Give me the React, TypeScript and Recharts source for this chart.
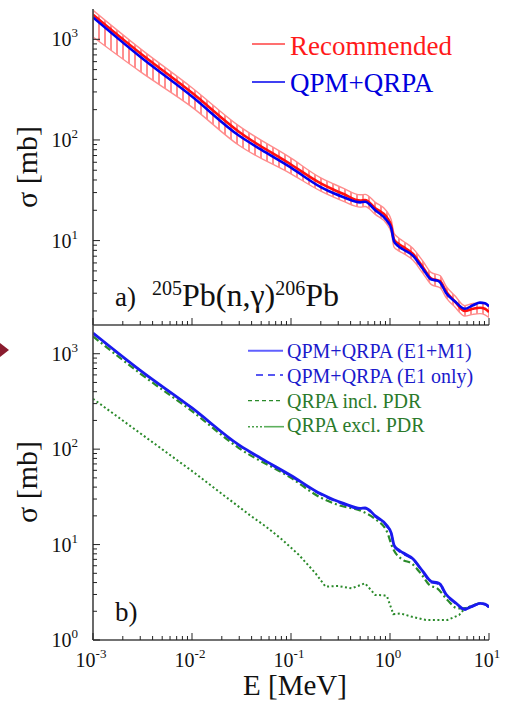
import React from 'react';
import { ComposedChart, Line, Area, XAxis, YAxis, Legend } from 'recharts';

const FONT = "'Liberation Serif', 'Times New Roman', Times, serif";

// ---- Panel a) Recommended (centre + uncertainty band), energies in MeV, sigma in mb
const recE = [0.001, 0.003, 0.01, 0.03, 0.1, 0.2, 0.27, 0.34, 0.5, 0.56, 0.71, 0.93, 1.03, 1.1, 1.2, 1.35, 1.7, 2.16, 2.62, 3.2, 3.7, 4.5, 5.7, 6.9, 8.1, 9.1, 10];
const recSigma = [1760, 728, 294, 120, 57, 37, 32, 29, 25, 25.3, 21, 17, 14, 10.2, 9.4, 8.7, 7.4, 5.4, 4.2, 3.95, 3.1, 2.5, 2.0, 2.1, 2.15, 2.1, 1.95];
const recLow = [1054, 477, 212, 88, 46, 31, 27, 24.5, 21.5, 21.8, 18.2, 14.6, 12, 8.6, 8, 7.5, 6.4, 4.7, 3.65, 3.4, 2.7, 2.2, 1.78, 1.85, 1.88, 1.83, 1.72];
const recHigh = [1945, 808, 330, 137, 66, 42, 36.5, 33, 28.5, 28.8, 24, 19.5, 16, 11.8, 10.8, 9.9, 8.4, 6.2, 4.8, 4.5, 3.5, 2.85, 2.26, 2.38, 2.4, 2.35, 2.2];

// ---- QPM+QRPA (E1+M1)
const qpmE = [0.001, 0.003, 0.01, 0.03, 0.05, 0.1, 0.2, 0.27, 0.34, 0.5, 0.56, 0.71, 0.93, 1.03, 1.1, 1.2, 1.35, 1.7, 2.16, 2.62, 3.0, 3.2, 3.7, 4.5, 5.7, 6.9, 8.1, 9.1, 10];
const qpmSigma = [1650, 670, 270, 110, 80, 53, 34, 29.5, 27, 24, 24.3, 20, 15.8, 13.2, 9.8, 8.9, 8.2, 7.1, 5.2, 4.1, 4.0, 3.85, 3.0, 2.5, 2.1, 2.28, 2.42, 2.38, 2.22];

// ---- QPM+QRPA (E1 only)
const e1E = [0.001, 0.003, 0.01, 0.03, 0.05, 0.1, 0.2, 0.27, 0.34, 0.5, 0.56, 0.71, 0.93, 1.03, 1.1, 1.2, 1.35, 1.7, 2.16, 2.62, 3.0, 3.2, 3.7, 4.5, 5.7, 6.9, 8.1, 9.1, 10];
const e1Sigma = [1640, 665, 268, 109, 79, 52, 33.5, 29, 26.5, 23.6, 23.9, 19.7, 15.5, 13, 9.6, 8.7, 8.0, 7.0, 5.1, 4.0, 3.9, 3.75, 2.95, 2.45, 2.08, 2.26, 2.4, 2.36, 2.2];

// ---- QRPA incl. PDR
const inclE = [0.001, 0.003, 0.01, 0.03, 0.1, 0.2, 0.3, 0.54, 0.71, 0.93, 1.07, 1.35, 1.64, 2.1, 2.5, 3.0, 3.8, 4.8, 5.6, 6.9, 8.1, 9.1, 10];
const inclSigma = [1520, 620, 250, 102, 50, 31, 26, 22, 18.5, 13.7, 9.1, 6.9, 6.4, 4.8, 3.77, 3.48, 2.63, 2.15, 2.15, 2.3, 2.42, 2.38, 2.22];

// ---- QRPA excl. PDR
const exclE = [0.001, 0.01, 0.038, 0.056, 0.082, 0.12, 0.177, 0.223, 0.3, 0.41, 0.56, 0.71, 0.85, 0.93, 1.08, 1.28, 1.64, 2.3, 3.8, 5.0, 5.7, 6.9, 8.1, 9.1, 10];
const exclSigma = [337, 59, 20.5, 15.4, 11.2, 7.8, 5.0, 3.63, 3.68, 3.48, 3.93, 2.96, 2.95, 2.89, 1.87, 1.9, 1.76, 1.62, 1.62, 1.83, 2.15, 2.3, 2.42, 2.38, 2.22];

// ---- axis ticks
const xDecades = [0.001, 0.01, 0.1, 1];
const yDecades = [1, 10, 100, 1000];
const mantissas = [1, 2, 3, 4, 5, 6, 7, 8, 9];
const xTicks = [...xDecades.flatMap((d) => mantissas.map((m) => +(d * m).toPrecision(6))), 10];
const yTicksTop = yDecades.flatMap((d) => mantissas.map((m) => d * m)).filter((v) => v >= 1.45 && v < 2000);
const yTicksBottom = yDecades.flatMap((d) => mantissas.map((m) => d * m)).filter((v) => v >= 1 && v < 2000);

const pts = (es: number[], vs: number[]) => es.map((e, i) => ({ E: e, s: vs[i] }));
const bandData = recE.map((e, i) => ({ E: e, lo: recLow[i], hi: recHigh[i] }));
const recData = pts(recE, recSigma);
const qpmData = pts(qpmE, qpmSigma);
const e1Data = pts(e1E, e1Sigma);
const inclData = pts(inclE, inclSigma);
const exclData = pts(exclE, exclSigma);

const AXIS = '#444';

function LogTick(props: any) {
  const { x, y, payload, orient, gap, label } = props;
  const v = payload.value;
  const lg = Math.log10(v);
  const exp = Math.round(lg);
  const major = Math.abs(lg - exp) < 1e-6;
  const len = major ? 7 : 4;
  let line: any = null;
  let text: any = null;
  if (orient === 'left') {
    const ax = x + gap;
    line = <line x1={ax} x2={ax + len} y1={y} y2={y} stroke="#222" strokeWidth={1} />;
    if (label && major)
      text = (
        <text x={x} y={y + 7} textAnchor="end" fontFamily={FONT} fontSize={20} fill="#111">
          <tspan>10</tspan>
          <tspan fontSize={13} dy={-9}>{exp}</tspan>
        </text>
      );
  } else if (orient === 'right') {
    const ax = x - gap;
    line = <line x1={ax} x2={ax - len} y1={y} y2={y} stroke="#222" strokeWidth={1} />;
  } else if (orient === 'bottom') {
    const ay = y - gap;
    line = <line x1={x} x2={x} y1={ay} y2={ay - len} stroke="#222" strokeWidth={1} />;
    if (label && major)
      text = (
        <text x={x - 2} y={y} textAnchor="middle" fontFamily={FONT} fontSize={20} fill="#111">
          <tspan>10</tspan>
          <tspan fontSize={13} dy={-9}>{exp}</tspan>
        </text>
      );
  } else {
    const ay = y + gap;
    line = <line x1={x} x2={x} y1={ay} y2={ay + len} stroke="#222" strokeWidth={1} />;
  }
  return (
    <g>
      {line}
      {text}
    </g>
  );
}

const axisLine = { stroke: AXIS, strokeWidth: 1.6 };

function TopLegend() {
  return (
    <svg width={260} height={90} style={{ display: 'block' }}>
      <line x1={12} x2={45} y1={24} y2={24} stroke="#ff4040" strokeWidth={1.3} />
      <text x={50} y={35} fontFamily={FONT} fontSize={27} fill="#ff1a1a">Recommended</text>
      <line x1={12} x2={45} y1={62} y2={62} stroke="#0000ee" strokeWidth={1.3} />
      <text x={50} y={72} fontFamily={FONT} fontSize={27} fill="#0000dd">QPM+QRPA</text>
    </svg>
  );
}

function BottomLegend() {
  return (
    <svg width={260} height={110} style={{ display: 'block' }}>
      <line x1={8} x2={43} y1={15.7} y2={15.7} stroke="#6060ff" strokeWidth={2} />
      <text x={47} y={23} fontFamily={FONT} fontSize={20} fill="#1a1acc">QPM+QRPA (E1+M1)</text>
      <line x1={16} x2={43} y1={40} y2={40} stroke="#2020ee" strokeWidth={1.6} strokeDasharray="7 5" />
      <text x={47} y={47.5} fontFamily={FONT} fontSize={20} fill="#1a1acc">QPM+QRPA (E1 only)</text>
      <line x1={8} x2={43} y1={65.7} y2={65.7} stroke="#2a8a2a" strokeWidth={1.3} strokeDasharray="4 3" />
      <text x={47} y={72.5} fontFamily={FONT} fontSize={20} fill="#2b7a2b">QRPA incl. PDR</text>
      <line x1={8} x2={24} y1={91.7} y2={91.7} stroke="#4aa04a" strokeWidth={1.4} strokeDasharray="2 2" />
      <line x1={24} x2={44} y1={91.7} y2={91.7} stroke="#5db05d" strokeWidth={1.6} />
      <text x={47} y={97} fontFamily={FONT} fontSize={20} fill="#2b7a2b">QRPA excl. PDR</text>
    </svg>
  );
}

export default function App() {
  return (
    <div style={{ position: 'absolute', left: 0, top: 0, width: 506, height: 701, background: '#fff', overflow: 'hidden' }}>
      {/* Panel a) */}
      <div style={{ position: 'absolute', left: 0, top: 0 }}>
        <ComposedChart width={506} height={330} margin={{ top: 9, right: 17, bottom: 0, left: 0 }}>
          <defs>
            <pattern id="hatchRed" patternUnits="userSpaceOnUse" width={6} height={10}>
              <line x1={3} y1={0} x2={3} y2={10} stroke="#ff2020" strokeWidth={1} />
            </pattern>
          </defs>
          <XAxis xAxisId="b" type="number" dataKey="E" scale="log" domain={[0.001, 10]} allowDataOverflow ticks={xTicks} interval={0}
            height={5} tickSize={0} tickMargin={0} tickLine={false} axisLine={axisLine}
            tick={<LogTick orient="bottom" gap={0} label={false} />} />
          <XAxis xAxisId="t" orientation="top" type="number" dataKey="E" scale="log" domain={[0.001, 10]} allowDataOverflow ticks={xTicks} interval={0}
            height={0} tickSize={0} tickMargin={0} tickLine={false} axisLine={axisLine}
            tick={<LogTick orient="top" gap={0} label={false} />} />
          <YAxis yAxisId="l" type="number" scale="log" domain={[1.45, 2000]} allowDataOverflow ticks={yTicksTop} interval={0}
            width={93} tickSize={0} tickMargin={15} tickLine={false} axisLine={axisLine}
            tick={<LogTick orient="left" gap={15} label={true} />} />
          <YAxis yAxisId="r" orientation="right" type="number" scale="log" domain={[1.45, 2000]} allowDataOverflow ticks={yTicksTop} interval={0}
            width={0} tickSize={0} tickMargin={0} tickLine={false} axisLine={axisLine}
            tick={<LogTick orient="right" gap={0} label={false} />} />
          <Area xAxisId="b" yAxisId="l" data={bandData} dataKey={(d: any) => [d.lo, d.hi]} type="monotoneX"
            fill="url(#hatchRed)" fillOpacity={1} stroke="#ff8c8c" strokeWidth={1.4} isAnimationActive={false} />
          <Line xAxisId="b" yAxisId="l" data={recData} dataKey="s" type="monotoneX" stroke="#ff1010" strokeWidth={2.6} dot={false} isAnimationActive={false} />
          <Line xAxisId="b" yAxisId="l" data={qpmData} dataKey="s" type="monotoneX" stroke="#0000f0" strokeWidth={2.6} dot={false} isAnimationActive={false} />
          <Legend layout="vertical" align="center" verticalAlign="middle" wrapperStyle={{ left: 240, top: 20, width: 260, height: 90 }} content={() => <TopLegend />} />
        </ComposedChart>
      </div>

      {/* Panel b) */}
      <div style={{ position: 'absolute', left: 0, top: 315 }}>
        <ComposedChart width={506} height={386} margin={{ top: 10, right: 17, bottom: 0, left: 0 }}>
          <XAxis xAxisId="b" type="number" dataKey="E" scale="log" domain={[0.001, 10]} allowDataOverflow ticks={xTicks} interval={0}
            height={61} tickSize={0} tickMargin={27} tickLine={false} axisLine={axisLine}
            tick={<LogTick orient="bottom" gap={27} label={true} />} />
          <XAxis xAxisId="t" orientation="top" type="number" dataKey="E" scale="log" domain={[0.001, 10]} allowDataOverflow ticks={xTicks} interval={0}
            height={0} tickSize={0} tickMargin={0} tickLine={false} axisLine={axisLine}
            tick={<LogTick orient="top" gap={0} label={false} />} />
          <YAxis yAxisId="l" type="number" scale="log" domain={[1, 2000]} allowDataOverflow ticks={yTicksBottom} interval={0}
            width={93} tickSize={0} tickMargin={15} tickLine={false} axisLine={axisLine}
            tick={<LogTick orient="left" gap={15} label={true} />} />
          <YAxis yAxisId="r" orientation="right" type="number" scale="log" domain={[1, 2000]} allowDataOverflow ticks={yTicksBottom} interval={0}
            width={0} tickSize={0} tickMargin={0} tickLine={false} axisLine={axisLine}
            tick={<LogTick orient="right" gap={0} label={false} />} />
          <Line xAxisId="b" yAxisId="l" data={exclData} dataKey="s" type="linear" stroke="#2a8a2a" strokeWidth={2} strokeDasharray="2 2.5" dot={false} isAnimationActive={false} />
          <Line xAxisId="b" yAxisId="l" data={inclData} dataKey="s" type="monotoneX" stroke="#2a8a2a" strokeWidth={2.2} strokeDasharray="7 3 2 3" dot={false} isAnimationActive={false} />
          <Line xAxisId="b" yAxisId="l" data={e1Data} dataKey="s" type="monotoneX" stroke="#2020ee" strokeWidth={2} strokeDasharray="8 5" dot={false} isAnimationActive={false} />
          <Line xAxisId="b" yAxisId="l" data={qpmData} dataKey="s" type="monotoneX" stroke="#1a1aee" strokeWidth={2.8} dot={false} isAnimationActive={false} />
          <Legend layout="vertical" align="center" verticalAlign="middle" wrapperStyle={{ left: 240, top: 20, width: 260, height: 110 }} content={() => <BottomLegend />} />
        </ComposedChart>
      </div>

      {/* annotations */}
      <svg width={506} height={701} style={{ position: 'absolute', left: 0, top: 0, pointerEvents: 'none' }}>
        <polygon points="0,343 9,350 0,357" fill="#8a1c2e" />
        <text transform="translate(37,167) rotate(-90)" textAnchor="middle" fontFamily={FONT} fontSize={30} fill="#111">σ [mb]</text>
        <text transform="translate(37,482) rotate(-90)" textAnchor="middle" fontFamily={FONT} fontSize={30} fill="#111">σ [mb]</text>
        <text x={295} y={695} textAnchor="middle" fontFamily={FONT} fontSize={29} fill="#111">E [MeV]</text>
        <text x={115} y={306} fontFamily={FONT} fontSize={27} fill="#111">a)</text>
        <text x={152} y={306} fontFamily={FONT} fontSize={32} fill="#111">
          <tspan fontSize={20} dy={-11}>205</tspan>
          <tspan dy={11}>Pb(n,γ)</tspan>
          <tspan fontSize={20} dy={-11}>206</tspan>
          <tspan dy={11}>Pb</tspan>
        </text>
        <text x={115} y={621} fontFamily={FONT} fontSize={27} fill="#111">b)</text>
      </svg>
    </div>
  );
}
